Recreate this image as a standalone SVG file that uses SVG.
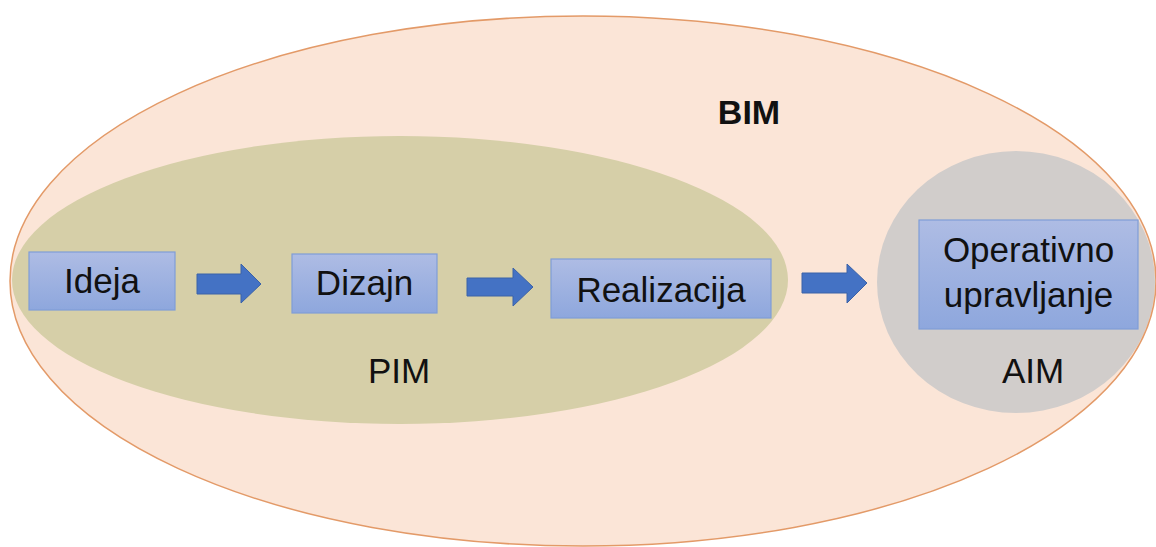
<svg xmlns="http://www.w3.org/2000/svg" width="1156" height="547" viewBox="0 0 1156 547">
<style>
.lbl{font-family:"Liberation Sans",Arial,sans-serif;font-size:35px;fill:#111;text-anchor:middle}
.box{fill:url(#bg);stroke:#7F9DD8;stroke-width:1.2}
.arr{fill:#4472C4;stroke:#3A62A8;stroke-width:1}
</style>
<defs>
<linearGradient id="bg" x1="0" y1="0" x2="0" y2="1">
<stop offset="0" stop-color="#AEBCE4"/>
<stop offset="1" stop-color="#8EA7DD"/>
</linearGradient>
</defs>
<rect width="1156" height="547" fill="#fff"/>
<g id="bim">
<ellipse cx="583" cy="281" rx="573" ry="265" fill="#FBE5D7"/>
<text x="749" y="124" class="lbl" style="font-weight:bold;font-size:34px">BIM</text>
</g>
<g id="pim">
<ellipse cx="400" cy="280" rx="388" ry="144" fill="#D6CFA8"/>
<text x="399" y="383" class="lbl">PIM</text>
</g>
<g id="aim">
<ellipse cx="1016" cy="282" rx="139" ry="131" fill="#D1CDCB"/>
<text x="1033" y="383" class="lbl">AIM</text>
</g>
<ellipse cx="583" cy="281" rx="573" ry="265" fill="none" stroke="#E39A68" stroke-width="1.5"/>
<g id="ideja">
<rect class="box" x="29" y="252" width="146" height="58"/>
<text class="lbl" x="102" y="293">Ideja</text>
</g>
<g id="dizajn">
<rect class="box" x="292" y="254" width="145" height="59"/>
<text class="lbl" x="364.5" y="295">Dizajn</text>
</g>
<g id="realizacija">
<rect class="box" x="551" y="259" width="220" height="59"/>
<text class="lbl" x="661" y="302">Realizacija</text>
</g>
<g id="operativno">
<rect class="box" x="919" y="220" width="219" height="109"/>
<text class="lbl" x="1028.5" y="262">Operativno</text>
<text class="lbl" x="1028.5" y="307">upravljanje</text>
</g>
<g id="connectors">
<polygon class="arr" points="197,274 241,274 241,264 261,284 241,303 241,294 197,294"/>
<polygon class="arr" points="467,278 513,278 513,268 533,287 513,306 513,296 467,296"/>
<polygon class="arr" points="802,273 847,273 847,264 867,283 847,303 847,293 802,293"/>
</g>
</svg>
